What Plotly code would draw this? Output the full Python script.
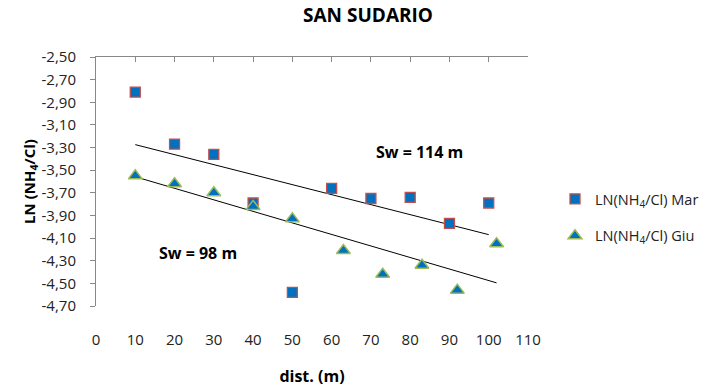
import numpy as np
import plotly.graph_objects as go

title = "SAN SUDARIO"
mar_x = [10, 20, 30, 40, 50, 60, 70, 80, 90, 100]
mar_y = [-2.81, -3.27, -3.36, -3.79, -4.58, -3.66, -3.75, -3.74, -3.97, -3.79]
giu_x = [10, 20, 30, 40, 50, 63, 73, 83, 92, 102]
giu_y = [-3.55, -3.62, -3.70, -3.82, -3.93, -4.21, -4.42, -4.34, -4.56, -4.15]
y_ticks = [-4.7, -4.5, -4.3, -4.1, -3.9, -3.7, -3.5, -3.3, -3.1, -2.9, -2.7, -2.5]
x_ticks = [0, 10, 20, 30, 40, 50, 60, 70, 80, 90, 100, 110]
labels = ["LN(NH<sub>4</sub>/Cl) Mar", "LN(NH<sub>4</sub>/Cl) Giu"]
notes = ["Sw = 114 m", "Sw = 98 m"]

FONT = "'Open Sans', 'Noto Sans', sans-serif"
y_text = [f"{v:.2f}".replace(".", ",") for v in y_ticks]

def trend(x, y):
    k, b = np.polyfit(x, y, 1)
    xs = np.array([min(x), max(x)])
    return xs, k * xs + b

fig = go.Figure()
tx, ty = trend(mar_x, mar_y)
fig.add_trace(go.Scatter(x=tx, y=ty, mode="lines", line=dict(color="black", width=1), showlegend=False, hoverinfo="skip"))
tx, ty = trend(giu_x, giu_y)
fig.add_trace(go.Scatter(x=tx, y=ty, mode="lines", line=dict(color="black", width=1), showlegend=False, hoverinfo="skip"))

fig.add_trace(go.Scatter(x=mar_x, y=mar_y, mode="markers", name=labels[0], legendgroup="a",
                         marker=dict(symbol="square", size=10, color="#0070C0",
                                     line=dict(color="#C0504D", width=1.3))))
fig.add_trace(go.Scatter(x=giu_x, y=giu_y, mode="markers", name=labels[1], legendgroup="b",
                         marker=dict(symbol="triangle-up", size=12, color="#0070C0",
                                     line=dict(color="#9BBB59", width=1.5))))
# top axis line with inward ticks
fig.add_trace(go.Scatter(x=[0], y=[-2.5], xaxis="x2", mode="markers", marker=dict(opacity=0),
                         showlegend=False, hoverinfo="skip"))

fig.add_annotation(x=82.4, y=-3.337, text="<b>" + notes[0] + "</b>", showarrow=False,
                   font=dict(size=16, color="black", family=FONT))
fig.add_annotation(x=26, y=-4.229, text="<b>" + notes[1] + "</b>", showarrow=False,
                   font=dict(size=16, color="black", family=FONT))

fig.update_layout(
    width=707, height=392,
    margin=dict(l=96, r=179, t=57, b=86, autoexpand=False),
    paper_bgcolor="white", plot_bgcolor="white",
    font=dict(family=FONT, size=15, color="#222"),
    title=dict(text="<b>" + title + "</b>", x=368 / 707, xanchor="center", y=1 - 15 / 392, yanchor="middle",
               font=dict(size=19, color="black", family=FONT)),
    showlegend=True,
    legend=dict(x=1.0625, xanchor="left", y=0.494, yanchor="top", tracegroupgap=15,
                font=dict(size=14.5, color="#222", family=FONT), bgcolor="rgba(0,0,0,0)"),
    xaxis=dict(range=[0, 110], tickvals=x_ticks, showgrid=False, zeroline=False, showline=False,
               ticks="", ticklabelstandoff=23, tickfont=dict(size=15),
               title=dict(text="<b>dist. (m)</b>", font=dict(size=16, color="black"), standoff=22)),
    xaxis2=dict(range=[0, 110], tickvals=x_ticks, overlaying="x", side="top", anchor="y",
                showgrid=False, zeroline=False, showline=True, linecolor="#888", linewidth=1,
                ticks="inside", ticklen=5, tickcolor="#888", showticklabels=False),
    yaxis=dict(range=[-4.7, -2.5], tickvals=y_ticks, ticktext=y_text, showgrid=False, zeroline=False,
               showline=True, linecolor="#888", linewidth=1, ticks="outside", ticklen=5, tickcolor="#888",
               ticklabelstandoff=11, tickfont=dict(size=15),
               title=dict(text="<b>LN (NH<sub>4</sub>/Cl)</b>", font=dict(size=15, color="black"), standoff=2)),
)

fig.write_html("out.html", config={"displayModeBar": False},
               post_script="document.body.style.margin='0';")
